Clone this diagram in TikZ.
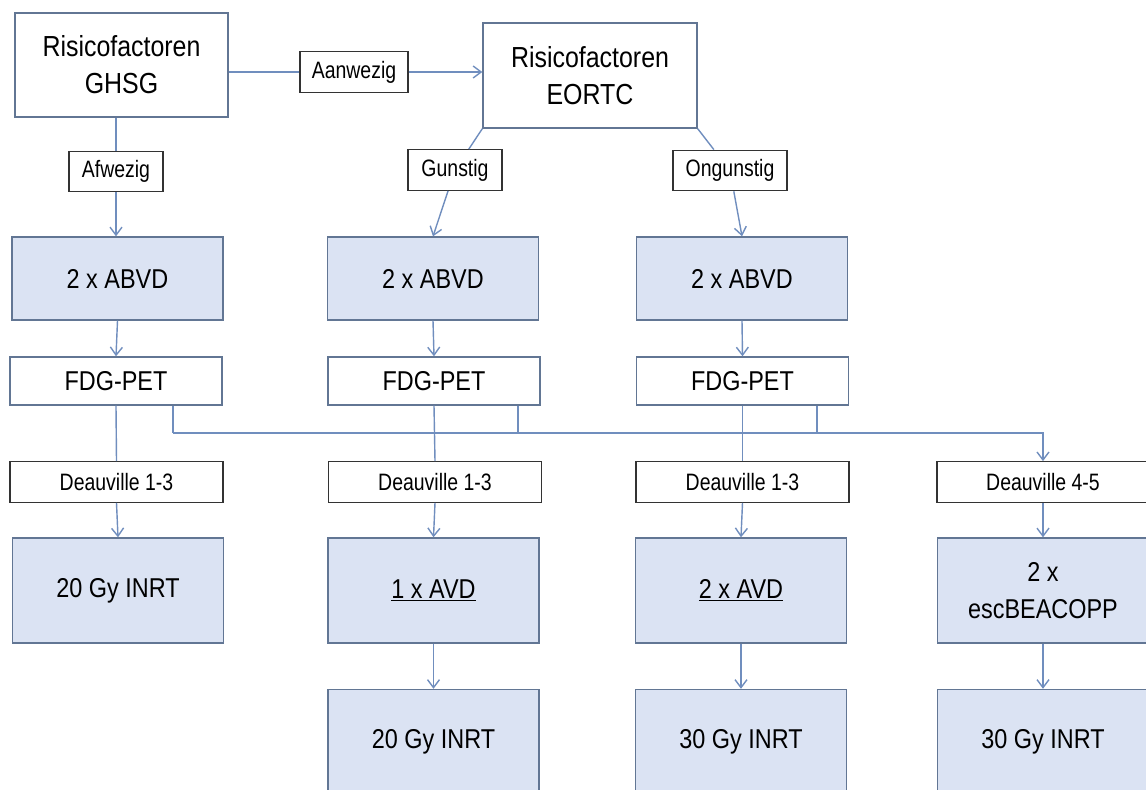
\documentclass[tikz,border=0pt]{standalone}
\usepackage{fontspec}
\setmainfont[FakeStretch=0.86]{Liberation Sans}
\newfontfamily\narrowfont[FakeStretch=0.82]{Liberation Sans}
\usetikzlibrary{arrows.meta}

\definecolor{lineblue}{RGB}{112,142,190}
\definecolor{boxedge}{RGB}{98,118,148}
\definecolor{boxfill}{RGB}{219,227,243}

\begin{document}
\begin{tikzpicture}[x=0.2mm, y=-0.2mm,
    topbox/.style={draw=boxedge, fill=white, line width=0.8pt, inner sep=0pt,
      align=center, font=\fontsize{16.5}{21}\selectfont},
    tag/.style={draw=black!80, fill=white, line width=0.7pt, inner sep=0pt,
      minimum height=8.1mm, font=\narrowfont\fontsize{13.5}{16}\selectfont},
    petbox/.style={draw=boxedge, fill=white, line width=0.8pt, inner sep=0pt,
      minimum width=42.4mm, minimum height=9.6mm, font=\fontsize{15.5}{19}\selectfont},
    treat/.style={draw=boxedge, fill=boxfill, line width=0.8pt, inner sep=0pt,
      minimum width=42.2mm, align=center, font=\fontsize{15.5}{21}\selectfont},
    link/.style={draw=lineblue, line width=0.8pt},
    arr/.style={link, -{Straight Barb[length=1.6mm, width=2.4mm]}}]

  \useasboundingbox (0,0) rectangle (1146,789);

  % Risk factors
  \node[topbox, minimum width=42.6mm, minimum height=20.8mm] (ghsg) at (121.5,65) {Risicofactoren\\GHSG};
  \node[topbox, minimum width=42.8mm, minimum height=21mm] (eortc) at (590,75.5) {Risicofactoren\\EORTC};

  % Branch labels
  \node[tag, minimum width=21.6mm] (aanw) at (354,72) {Aanwezig};
  \node[tag, minimum width=18.8mm] (afw) at (116,171.5) {Afwezig};
  \node[tag, minimum width=18.8mm] (gun) at (455,170) {Gunstig};
  \node[tag, minimum width=22.8mm] (ongun) at (730,170.5) {Ongunstig};

  % ABVD row
  \node[treat, minimum height=16.6mm] (abvd1) at (117.5,278.5) {2 x ABVD};
  \node[treat, minimum height=16.6mm] (abvd2) at (433,278.5) {2 x ABVD};
  \node[treat, minimum height=16.6mm] (abvd3) at (742,278.5) {2 x ABVD};

  % PET row
  \node[petbox] (fdg1) at (116,381) {FDG-PET};
  \node[petbox] (fdg2) at (434,381) {FDG-PET};
  \node[petbox] (fdg3) at (742.5,381) {FDG-PET};

  % Deauville row
  \node[tag, minimum width=42.6mm] (dv1) at (116.5,482) {Deauville 1-3};
  \node[tag, minimum width=42.6mm] (dv2) at (435,482) {Deauville 1-3};
  \node[tag, minimum width=42.6mm] (dv3) at (742.5,482) {Deauville 1-3};
  \node[tag, minimum width=42.4mm] (dv4) at (1043,482) {Deauville 4-5};

  % Treatment rows
  \node[treat, minimum height=21mm] (rt1) at (118,590.5) {20 Gy INRT};
  \node[treat, minimum height=21mm] (avd1) at (433.5,590.5) {\underline{1 x AVD}};
  \node[treat, minimum height=21mm] (avd2) at (741,590.5) {\underline{2 x AVD}};
  \node[treat, minimum height=21mm] (bea) at (1043,590.5) {2 x\\escBEACOPP};
  \node[treat, minimum height=21mm] (rt2) at (433.5,742) {20 Gy INRT};
  \node[treat, minimum height=21mm] (rt3) at (741,742) {30 Gy INRT};
  \node[treat, minimum height=21mm] (rt4) at (1043,742) {30 Gy INRT};

  % Bus taps below PET
  \coordinate (tap1) at (173,433);
  \coordinate (tap2) at (518,433);
  \coordinate (tap3) at (817,433);

  % Top connectors
  \draw[link] (ghsg.east |- aanw) -- (aanw.west);
  \draw[arr] (aanw.east) -- (eortc.west |- aanw);
  \draw[link] (ghsg.south -| afw) -- (afw.north);
  \draw[arr] (afw.south) -- (abvd1.north -| afw);
  \draw[link] (eortc.south west) -- (gun);
  \draw[arr] (gun) -- (abvd2.north);
  \draw[link] (eortc.south east) -- (ongun);
  \draw[arr] (ongun) -- (abvd3.north);

  % ABVD to PET to Deauville
  \foreach \i in {1,2,3} {
    \draw[arr] (abvd\i.south) -- (fdg\i.north);
    \draw[link] (fdg\i.south) -- (dv\i.north);
  }

  % PET bus to Deauville 4-5
  \draw[link] (fdg1.south -| tap1) -- (tap1);
  \draw[link] (fdg2.south -| tap2) -- (tap2);
  \draw[link] (fdg3.south -| tap3) -- (tap3);
  \draw[arr] (tap1) -- (tap1 -| dv4) -- (dv4.north);

  % Deauville to treatment
  \draw[arr] (dv1.south) -- (rt1.north);
  \draw[arr] (dv2.south) -- (avd1.north);
  \draw[arr] (dv3.south) -- (avd2.north);
  \draw[arr] (dv4.south) -- (bea.north);
  \draw[arr] (avd1.south) -- (rt2.north);
  \draw[arr] (avd2.south) -- (rt3.north);
  \draw[arr] (bea.south) -- (rt4.north);
\end{tikzpicture}
\end{document}
